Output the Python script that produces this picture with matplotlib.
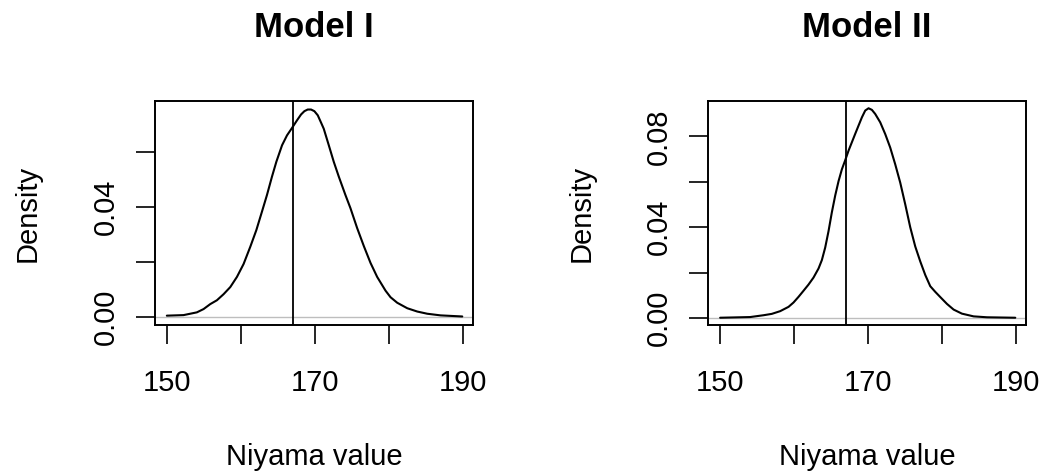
import matplotlib
matplotlib.use("Agg")
import matplotlib.pyplot as plt

plt.rcParams['font.family'] = ['Liberation Sans', 'DejaVu Sans']

titles = ["Model I", "Model II"]
x_label = "Niyama value"
y_label = "Density"
ref_value = 167.0

# Model I density curve
m1_x = [150.00, 152.26, 154.06, 154.97, 155.87, 156.77, 157.67, 158.58, 159.48, 160.38,
        161.29, 162.10, 162.87, 163.54, 164.22, 164.81, 165.58, 166.25, 166.93, 167.61,
        168.15, 168.60, 169.05, 169.50, 169.95, 170.41, 170.86, 171.22, 171.90, 172.57,
        173.25, 174.15, 174.83, 175.73, 176.64, 177.54, 178.44, 179.57, 180.25, 181.15,
        182.51, 183.86, 185.21, 187.02, 189.95]
m1_y = [0.0004, 0.0006, 0.0016, 0.0028, 0.0046, 0.0060, 0.0082, 0.0108, 0.0145, 0.0192,
        0.0255, 0.0315, 0.0383, 0.0443, 0.0510, 0.0564, 0.0624, 0.0660, 0.0687, 0.0715,
        0.0736, 0.0748, 0.0754, 0.0754, 0.0748, 0.0733, 0.0706, 0.0684, 0.0624, 0.0564,
        0.0510, 0.0443, 0.0395, 0.0323, 0.0257, 0.0196, 0.0145, 0.0095, 0.0071, 0.0051,
        0.0031, 0.0019, 0.0011, 0.0005, 0.0001]

# Model II density curve
m2_x = [150.00, 154.06, 155.87, 156.99, 158.13, 159.26, 159.93, 160.61, 161.29, 161.96,
        162.64, 163.32, 163.77, 164.22, 164.67, 165.12, 165.58, 166.03, 166.48, 166.93,
        167.38, 167.83, 168.28, 168.74, 169.19, 169.64, 170.09, 170.54, 170.99, 171.67,
        172.35, 173.02, 173.70, 174.38, 175.06, 175.73, 176.41, 177.09, 177.77, 178.44,
        179.12, 179.80, 180.70, 181.60, 182.73, 184.31, 186.12, 189.95]
m2_y = [0.0001, 0.0004, 0.0012, 0.0018, 0.0030, 0.0049, 0.0068, 0.0093, 0.0120, 0.0147,
        0.0178, 0.0218, 0.0255, 0.0310, 0.0382, 0.0465, 0.0540, 0.0603, 0.0655, 0.0695,
        0.0737, 0.0774, 0.0811, 0.0848, 0.0884, 0.0914, 0.0924, 0.0917, 0.0899, 0.0862,
        0.0810, 0.0751, 0.0677, 0.0596, 0.0500, 0.0400, 0.0315, 0.0249, 0.0189, 0.0140,
        0.0115, 0.0092, 0.0062, 0.0037, 0.0019, 0.0007, 0.0003, 0.0001]

x_ticks = [150, 160, 170, 180, 190]
x_tick_labels = ["150", "", "170", "", "190"]
y_ticks = [0.00, 0.02, 0.04, 0.06, 0.08]
y_tick_labels_1 = ["0.00", "", "0.04", "", ""]
y_tick_labels_2 = ["0.00", "", "0.04", "", "0.08"]

W, H = 1043, 476
fig = plt.figure(figsize=(W / 100, H / 100), dpi=100)

panels = [
    (155, 473, (-0.0030, 0.0785), m1_x, m1_y, y_tick_labels_1, y_ticks[:4]),
    (708.3, 1026, (-0.0031, 0.0956), m2_x, m2_y, y_tick_labels_2, y_ticks),
]
top_px, bot_px = 101, 325
fs = 21
for i, (l, r, ylim, xs, ys, ylabs, yt) in enumerate(panels):
    ax = fig.add_axes([l / W, (H - bot_px) / H, (r - l) / W, (bot_px - top_px) / H])
    ax.axhline(0, color='#BEBEBE', lw=1.0, zorder=1)
    ax.plot(xs, ys, color='black', lw=1.5, zorder=3,
            solid_joinstyle='round', solid_capstyle='round')
    ax.axvline(ref_value, color='black', lw=1.3, zorder=2)
    ax.set_xlim(148.4, 191.4)
    ax.set_ylim(*ylim)
    ax.set_xticks(x_ticks)
    ax.set_xticklabels(x_tick_labels, fontsize=fs)
    ax.set_yticks(yt)
    ax.set_yticklabels(ylabs[:len(yt)], fontsize=fs, rotation=90, va='center')
    ax.tick_params(axis='both', length=13.5, width=1.2, direction='out')
    ax.tick_params(axis='x', pad=18)
    ax.tick_params(axis='y', pad=12)
    for s in ax.spines.values():
        s.set_linewidth(1.4)
    cx = (l + r) / 2
    fig.text(cx / W, (H - 37) / H, titles[i], fontsize=25, fontweight='bold',
             ha='center', va='baseline')
    fig.text(cx / W, (H - 465) / H, x_label, fontsize=fs, ha='center', va='baseline')
    fig.text((l - 127) / W, (H - 213) / H, y_label, fontsize=fs, rotation=90,
             ha='center', va='center')

fig.savefig("out.png", dpi=100)
